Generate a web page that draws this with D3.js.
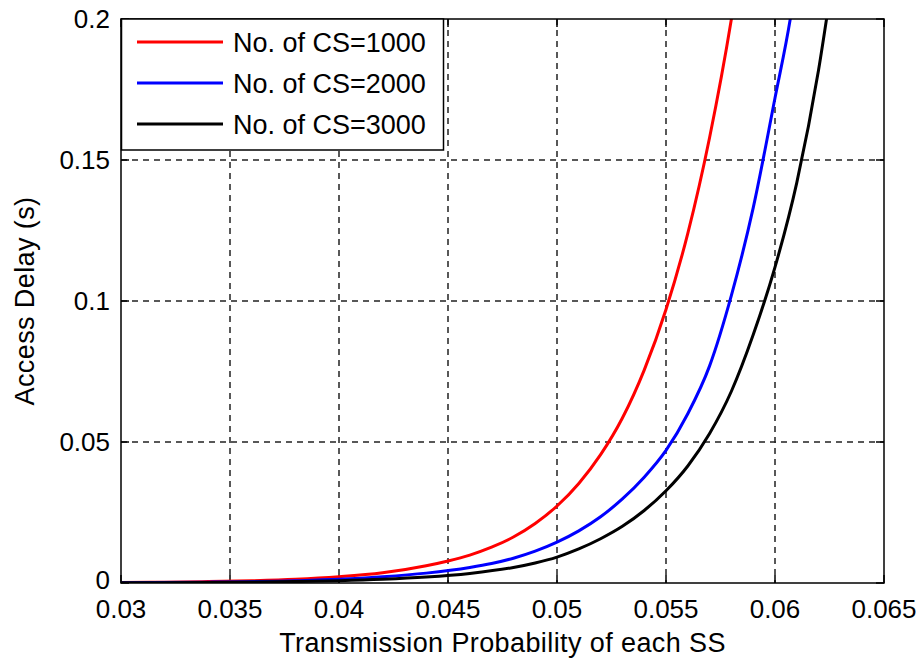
<!DOCTYPE html>
<html>
<head>
<meta charset="utf-8">
<script src="https://cdn.jsdelivr.net/npm/d3@7"></script>
<style>
  body { margin: 0; background: #fff; }
  svg { display: block; font-family: "Liberation Sans", Arial, sans-serif; }
  .grid line { stroke: #222; stroke-width: 1.5; stroke-dasharray: 6,5; }
  .tick-label { font-size: 26px; fill: #000; }
  .axis-label { font-size: 27px; letter-spacing: 0.4px; fill: #000; }
  .legend text { font-size: 27px; fill: #000; }
</style>
</head>
<body>
<div id="chart"></div>
<script>
// Values
const xTicks = [0.03, 0.035, 0.04, 0.045, 0.05, 0.055, 0.06, 0.065];
const yTicks = [0, 0.05, 0.1, 0.15, 0.2];

const x1000 = [0.03, 0.032, 0.034, 0.036, 0.038, 0.04, 0.042, 0.044, 0.045, 0.046, 0.047, 0.048, 0.049, 0.05, 0.051, 0.052, 0.053, 0.054, 0.055, 0.056, 0.057, 0.058, 0.0585];
const y1000 = [0.0002, 0.0003, 0.0005, 0.0008, 0.0013, 0.0022, 0.0036, 0.0061, 0.0078, 0.0099, 0.0127, 0.0163, 0.0211, 0.0273, 0.0353, 0.0455, 0.0585, 0.0755, 0.097, 0.124, 0.158, 0.2, 0.225];

const x2000 = [0.03, 0.034, 0.038, 0.04, 0.042, 0.044, 0.046, 0.047, 0.048, 0.049, 0.05, 0.051, 0.052, 0.053, 0.054, 0.055, 0.056, 0.057, 0.058, 0.059, 0.06, 0.0607, 0.061];
const y2000 = [0.0001, 0.0003, 0.0008, 0.0013, 0.0022, 0.0035, 0.0055, 0.0069, 0.0088, 0.0113, 0.0145, 0.0185, 0.0235, 0.0298, 0.0375, 0.047, 0.06, 0.077, 0.102, 0.133, 0.172, 0.2, 0.215];

const x3000 = [0.03, 0.034, 0.038, 0.04, 0.042, 0.044, 0.046, 0.048, 0.049, 0.05, 0.051, 0.052, 0.053, 0.054, 0.055, 0.056, 0.057, 0.058, 0.059, 0.06, 0.061, 0.062, 0.0625];
const y3000 = [0.0001, 0.0002, 0.0005, 0.0008, 0.0013, 0.0021, 0.0034, 0.0055, 0.0071, 0.0092, 0.0121, 0.0157, 0.0201, 0.0257, 0.0327, 0.0415, 0.053, 0.068, 0.088, 0.112, 0.142, 0.182, 0.207];

const seriesNames = ['No. of CS=1000', 'No. of CS=2000', 'No. of CS=3000'];
const seriesColors = ['#ff0000', '#0000ff', '#000000'];

const series = [[x1000, y1000], [x2000, y2000], [x3000, y3000]].map(([xs, ys], i) => ({
  name: seriesNames[i],
  color: seriesColors[i],
  values: xs.map((x, j) => ({x, y: ys[j]}))
}));

const margin = {top: 19, right: 35, bottom: 78, left: 121},
      width = 919 - margin.left - margin.right,
      height = 661 - margin.top - margin.bottom;

const svg = d3.select('#chart').append('svg')
    .attr('width', 919)
    .attr('height', 661);

const g = svg.append('g')
    .attr('transform', `translate(${margin.left},${margin.top})`);

const x = d3.scaleLinear().domain([0.03, 0.065]).range([0, width]);
const y = d3.scaleLinear().domain([0, 0.2]).range([height, 0]);

svg.append('defs').append('clipPath')
    .attr('id', 'clip')
  .append('rect')
    .attr('width', width)
    .attr('height', height);

// Grid
const grid = g.append('g').attr('class', 'grid');
grid.selectAll('.vx')
  .data(xTicks.slice(1, -1))
  .enter().append('line')
    .attr('x1', d => x(d)).attr('x2', d => x(d))
    .attr('y1', 0).attr('y2', height);
grid.selectAll('.hy')
  .data(yTicks.slice(1, -1))
  .enter().append('line')
    .attr('y1', d => y(d)).attr('y2', d => y(d))
    .attr('x1', 0).attr('x2', width);

// Inner ticks on all four sides
const tickLen = 8;
const ticks = g.append('g')
    .attr('stroke', '#000')
    .attr('stroke-width', 1.5);
xTicks.forEach(d => {
  ticks.append('line').attr('x1', x(d)).attr('x2', x(d)).attr('y1', height).attr('y2', height - tickLen);
  ticks.append('line').attr('x1', x(d)).attr('x2', x(d)).attr('y1', 0).attr('y2', tickLen);
});
yTicks.forEach(d => {
  ticks.append('line').attr('y1', y(d)).attr('y2', y(d)).attr('x1', 0).attr('x2', tickLen);
  ticks.append('line').attr('y1', y(d)).attr('y2', y(d)).attr('x1', width).attr('x2', width - tickLen);
});

// Curves
const line = d3.line()
    .x(d => x(d.x))
    .y(d => y(d.y))
    .curve(d3.curveMonotoneX);

g.append('g')
    .attr('clip-path', 'url(#clip)')
  .selectAll('path')
  .data(series)
  .enter().append('path')
    .attr('fill', 'none')
    .attr('stroke', d => d.color)
    .attr('stroke-width', 3)
    .attr('d', d => line(d.values));

// Frame
g.append('rect')
    .attr('width', width)
    .attr('height', height)
    .attr('fill', 'none')
    .attr('stroke', '#000')
    .attr('stroke-width', 1.5);

// Tick labels
g.append('g').selectAll('text')
  .data(xTicks)
  .enter().append('text')
    .attr('class', 'tick-label')
    .attr('x', d => x(d))
    .attr('y', height + 35)
    .attr('text-anchor', 'middle')
    .text(d => d);

g.append('g').selectAll('text')
  .data(yTicks)
  .enter().append('text')
    .attr('class', 'tick-label')
    .attr('x', -11)
    .attr('y', d => y(d) + (d === 0 ? 6 : 9))
    .attr('text-anchor', 'end')
    .text(d => d);

// Axis labels
g.append('text')
    .attr('class', 'axis-label')
    .attr('x', width / 2)
    .attr('y', height + 69)
    .attr('text-anchor', 'middle')
    .text('Transmission Probability of each SS');

g.append('text')
    .attr('class', 'axis-label')
    .attr('transform', `translate(${34 - margin.left},${height / 2}) rotate(-90)`)
    .attr('text-anchor', 'middle')
    .text('Access Delay (s)');

// Legend
const legend = g.append('g').attr('class', 'legend');
legend.append('rect')
    .attr('x', 0.5)
    .attr('y', 0)
    .attr('width', 322)
    .attr('height', 131)
    .attr('fill', '#fff')
    .attr('stroke', '#000')
    .attr('stroke-width', 1.5);

const item = legend.selectAll('g.item')
  .data(series)
  .enter().append('g')
    .attr('class', 'item')
    .attr('transform', (d, i) => `translate(0,${23 + i * 41})`);
item.append('line')
    .attr('x1', 16).attr('x2', 102)
    .attr('stroke', d => d.color)
    .attr('stroke-width', 3);
item.append('text')
    .attr('x', 112)
    .attr('y', 10)
    .text(d => d.name);
</script>
</body>
</html>
